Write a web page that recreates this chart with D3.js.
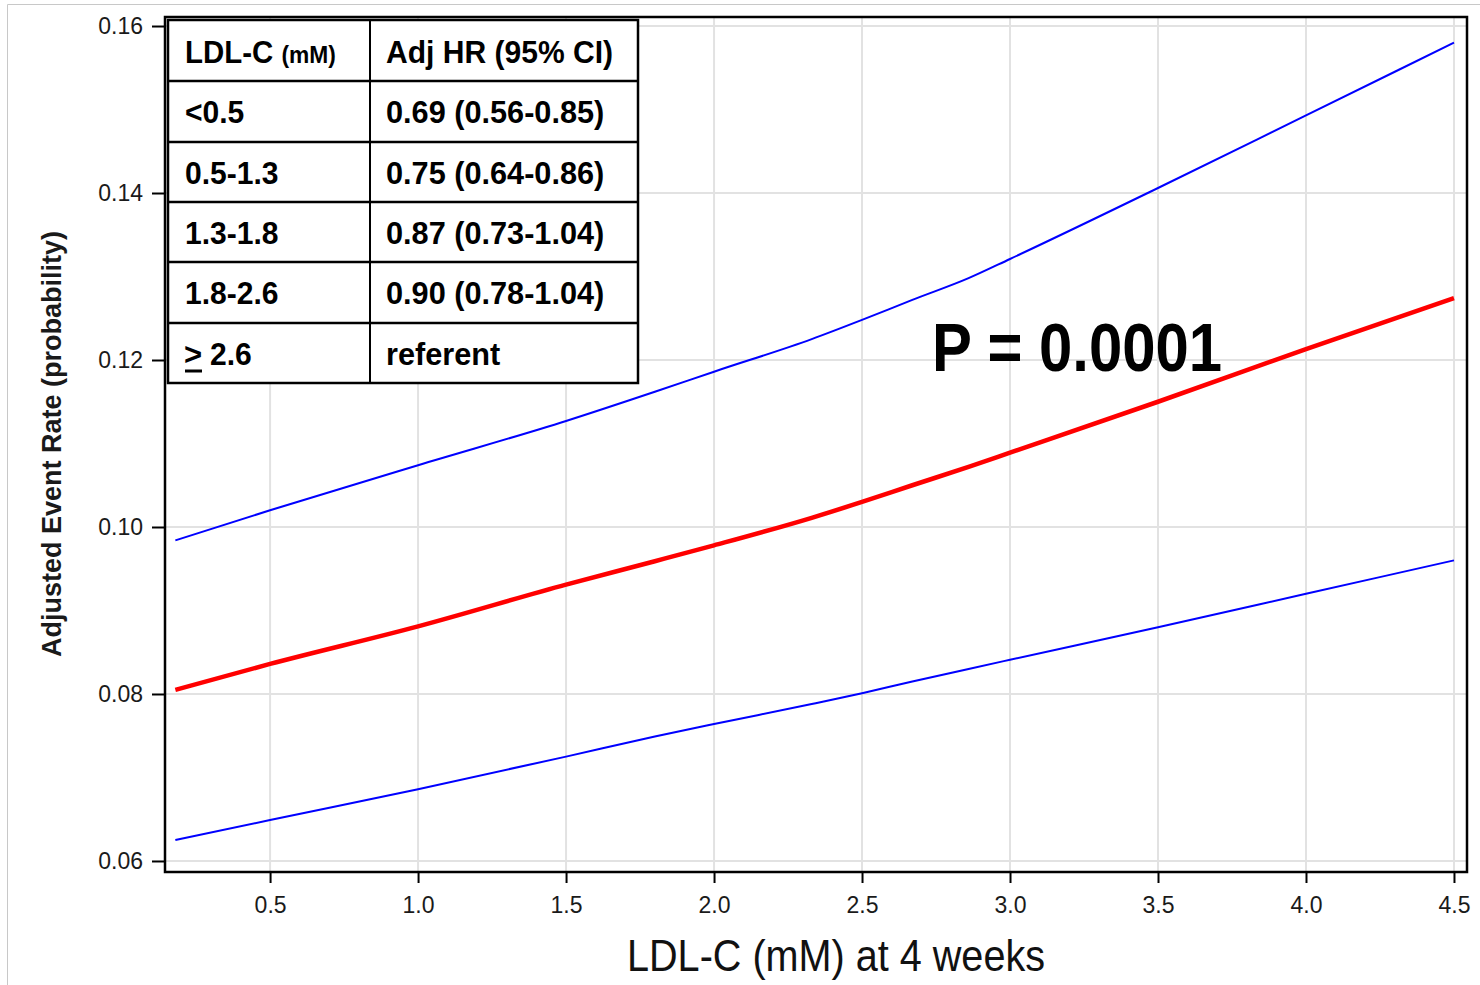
<!DOCTYPE html>
<html>
<head>
<meta charset="utf-8">
<script src="https://cdn.jsdelivr.net/npm/d3@7"></script>
<style>
  body { margin: 0; background: #fff; }
  svg { display: block; }
</style>
</head>
<body>
<div id="chart"></div>
<script>
// LDL-C at 4 weeks vs adjusted event rate, with 95% band
const ldl = [0.18, 0.5, 1.0, 1.5, 1.8, 2.0, 2.33, 2.5, 2.67, 2.86, 3.0, 3.5, 4.0, 4.5]
const rate = [0.0805, 0.0836, 0.0881, 0.0931, 0.0959, 0.0978, 0.1011, 0.1030, 0.1050, 0.1072, 0.1089, 0.1150, 0.1213, 0.1274]
const upper = [0.0984, 0.1020, 0.1074, 0.1127, 0.1162, 0.1186, 0.1225, 0.1248, 0.1272, 0.1298, 0.1321, 0.1406, 0.1493, 0.1580]
const lower = [0.0625, 0.0649, 0.0686, 0.0725, 0.0749, 0.0764, 0.0788, 0.0801, 0.0815, 0.0830, 0.0841, 0.0880, 0.0920, 0.0960]

const xTicks = [0.5, 1.0, 1.5, 2.0, 2.5, 3.0, 3.5, 4.0, 4.5]
const yTicks = [0.06, 0.08, 0.10, 0.12, 0.14, 0.16]

const groups = ["<0.5", "0.5-1.3", "1.3-1.8", "1.8-2.6", "2.6"]
const hrs = ["0.69 (0.56-0.85)", "0.75 (0.64-0.86)", "0.87 (0.73-1.04)", "0.90 (0.78-1.04)", "referent"]
const pValue = "P = 0.0001"

const W = 1480, H = 985
const pLeft = 165, pRight = 1467, pTop = 17, pBottom = 872
const sans = "Liberation Sans, Arial, Helvetica, sans-serif"

const svg = d3.select("#chart").append("svg")
  .attr("width", W)
  .attr("height", H)

// faint page frame
svg.append("path")
  .attr("d", `M7.5,${H} V4.5 H${W}`)
  .attr("fill", "none")
  .attr("stroke", "#c8c8c8")
  .attr("stroke-width", 1)

const x = d3.scaleLinear()
  .domain([0.145, 4.544])
  .range([pLeft, pRight])

const y = d3.scaleLinear()
  .domain([0.05868, 0.16108])
  .range([pBottom, pTop])

// grid
svg.append("g")
  .selectAll("line")
  .data(xTicks)
  .join("line")
  .attr("x1", d => x(d)).attr("x2", d => x(d))
  .attr("y1", pTop).attr("y2", pBottom)
  .attr("stroke", "#e2e2e2")
  .attr("stroke-width", 2)

svg.append("g")
  .selectAll("line")
  .data(yTicks)
  .join("line")
  .attr("x1", pLeft).attr("x2", pRight)
  .attr("y1", d => y(d)).attr("y2", d => y(d))
  .attr("stroke", "#e2e2e2")
  .attr("stroke-width", 2)

// axes
const xAxis = svg.append("g")
  .attr("transform", `translate(0,${pBottom})`)
  .call(d3.axisBottom(x).tickValues(xTicks).tickFormat(d3.format(".1f")).tickSize(11).tickSizeOuter(0))
xAxis.select(".domain").remove()
xAxis.selectAll("line").attr("stroke", "#000").attr("stroke-width", 2)
xAxis.selectAll("text")
  .attr("dy", "0")
  .attr("y", 41)
  .attr("font-family", sans)
  .attr("font-size", 23)
  .attr("fill", "#1a1a1a")

const yAxis = svg.append("g")
  .attr("transform", `translate(${pLeft},0)`)
  .call(d3.axisLeft(y).tickValues(yTicks).tickFormat(d3.format(".2f")).tickSize(13).tickSizeOuter(0))
yAxis.select(".domain").remove()
yAxis.selectAll("line").attr("stroke", "#000").attr("stroke-width", 2)
yAxis.selectAll("text")
  .attr("x", -22)
  .attr("dy", "0.34em")
  .attr("font-family", sans)
  .attr("font-size", 23)
  .attr("fill", "#1a1a1a")

// curves
const line = d3.line()
  .x(d => x(d[0]))
  .y(d => y(d[1]))
  .curve(d3.curveMonotoneX)

const series = [
  { vals: upper, color: "#0000ff", w: 2 },
  { vals: lower, color: "#0000ff", w: 2 },
  { vals: rate, color: "#ff0000", w: 4.5 }
]

svg.append("g")
  .selectAll("path")
  .data(series)
  .join("path")
  .attr("d", s => line(ldl.map((v, i) => [v, s.vals[i]])))
  .attr("fill", "none")
  .attr("stroke", s => s.color)
  .attr("stroke-width", s => s.w)

// table
const tX = 168, tX2 = 638, tDiv = 370
const rowY = [20, 81, 142, 202, 262, 323, 383]
const table = svg.append("g")
  .attr("font-family", sans)
  .attr("font-weight", "bold")
  .attr("font-size", 31)
  .attr("fill", "#000")

table.append("rect")
  .attr("x", tX).attr("y", rowY[0])
  .attr("width", tX2 - tX).attr("height", rowY[6] - rowY[0])
  .attr("fill", "#fff")
  .attr("stroke", "#000")
  .attr("stroke-width", 2.5)

table.selectAll("line.row")
  .data(rowY.slice(1, 6))
  .join("line")
  .attr("class", "row")
  .attr("x1", tX).attr("x2", tX2)
  .attr("y1", d => d).attr("y2", d => d)
  .attr("stroke", "#000")
  .attr("stroke-width", 2.5)

table.append("line")
  .attr("x1", tDiv).attr("x2", tDiv)
  .attr("y1", rowY[0]).attr("y2", rowY[6])
  .attr("stroke", "#000")
  .attr("stroke-width", 2)

const head = table.append("text")
  .attr("transform", `translate(185,${rowY[0] + 43}) scale(0.95,1)`)
head.append("tspan").text("LDL-C ")
head.append("tspan").attr("font-size", 24).text("(mM)")

table.append("text")
  .attr("transform", `translate(386,${rowY[0] + 43}) scale(0.97,1)`)
  .text("Adj HR (95% CI)")

table.selectAll("text.grp")
  .data(groups)
  .join("text")
  .attr("class", "grp")
  .attr("transform", (d, i) => `translate(${i === 4 ? 210 : 185},${rowY[i + 1] + 42}) scale(0.97,1)`)
  .text(d => d)

// ">" with underline for the last group
table.append("text")
  .attr("x", 184).attr("y", rowY[5] + 42)
  .text(">")
table.append("line")
  .attr("x1", 185).attr("x2", 202)
  .attr("y1", rowY[5] + 48).attr("y2", rowY[5] + 48)
  .attr("stroke", "#000")
  .attr("stroke-width", 3)

table.selectAll("text.hr")
  .data(hrs)
  .join("text")
  .attr("class", "hr")
  .attr("transform", (d, i) => `translate(386,${rowY[i + 1] + 42}) scale(0.99,1)`)
  .text(d => d)

// plot frame
svg.append("rect")
  .attr("x", pLeft).attr("y", pTop)
  .attr("width", pRight - pLeft).attr("height", pBottom - pTop)
  .attr("fill", "none")
  .attr("stroke", "#000")
  .attr("stroke-width", 2.5)

// p value
svg.append("text")
  .attr("transform", "translate(932,371) scale(0.88,1)")
  .attr("font-family", sans)
  .attr("font-weight", "bold")
  .attr("font-size", 68)
  .text(pValue)

// axis titles
svg.append("text")
  .attr("transform", "translate(836,971) scale(0.88,1)")
  .attr("text-anchor", "middle")
  .attr("font-family", sans)
  .attr("font-size", 45)
  .attr("fill", "#111")
  .text("LDL-C (mM) at 4 weeks")

svg.append("text")
  .attr("transform", "translate(61,444) rotate(-90)")
  .attr("text-anchor", "middle")
  .attr("font-family", sans)
  .attr("font-weight", "bold")
  .attr("font-size", 27)
  .attr("fill", "#1a1a1a")
  .text("Adjusted Event Rate (probability)")
</script>
</body>
</html>
